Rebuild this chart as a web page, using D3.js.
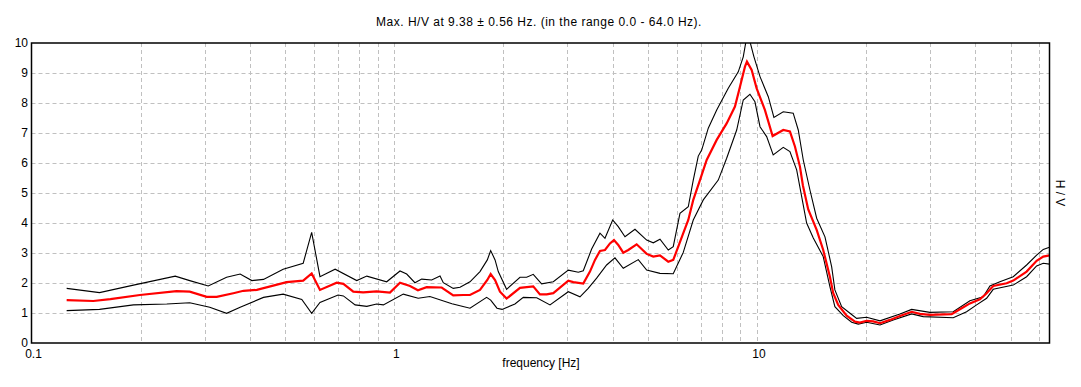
<!DOCTYPE html>
<html>
<head>
<meta charset="utf-8">
<script src="https://cdn.jsdelivr.net/npm/d3@7"></script>
<style>
body { margin: 0; background: #fff; }
svg { display: block; font-family: Arial, "Liberation Sans", sans-serif; }
</style>
</head>
<body>
<svg id="chart" width="1081" height="387"></svg>
<script>
// mean H/V curve
var freqMean = [0.125,0.148,0.165,0.199,0.251,0.273,0.304,0.324,0.360,0.384,0.418,0.505,0.561,0.592,0.624,0.694,0.724,0.771,0.821,0.894,0.973,1.037,1.105,1.162,1.228,1.351,1.454,1.550,1.617,1.723,1.805,1.844,1.896,1.956,2.040,2.221,2.416,2.521,2.631,2.744,3.018,3.115,3.319,3.463,3.575,3.690,3.809,3.932,4.033,4.144,4.278,4.416,4.657,4.963,5.176,5.401,5.693,5.875,6.065,6.261,6.463,6.671,6.961,7.264,7.741,8.246,8.692,8.973,9.262,9.38,9.663,9.975,10.51,11.04,11.81,12.32,12.72,13.13,13.38,13.84,14.60,15.22,15.88,16.22,16.74,17.66,18.62,19.21,20.05,20.91,21.82,23.25,24.77,26.68,28.12,29.96,34.39,36.64,38.62,41.15,42.94,44.78,48.75,50.84,55.35,58.98,61.51,64.0];
var hvMean = [1.43,1.40,1.46,1.60,1.73,1.71,1.54,1.54,1.66,1.74,1.77,2.03,2.08,2.32,1.77,2.01,1.97,1.71,1.69,1.72,1.68,2.01,1.90,1.76,1.86,1.85,1.59,1.60,1.60,1.77,2.10,2.30,2.10,1.71,1.48,1.84,1.89,1.62,1.62,1.66,2.08,2.03,1.98,2.38,2.77,3.07,3.10,3.32,3.43,3.27,3.01,3.10,3.29,2.97,2.88,2.92,2.71,2.77,3.21,3.66,4.10,4.77,5.43,6.10,6.77,7.32,7.88,8.54,9.21,9.38,9.10,8.49,7.77,6.90,7.10,7.05,6.55,5.88,5.25,4.45,3.77,3.10,2.21,1.66,1.27,0.91,0.71,0.68,0.74,0.72,0.66,0.77,0.90,1.04,0.97,0.94,0.96,1.16,1.32,1.46,1.66,1.90,1.99,2.08,2.38,2.74,2.88,2.92];

// mean + std
var freqUpper = [0.125,0.154,0.191,0.249,0.273,0.307,0.345,0.376,0.405,0.436,0.494,0.561,0.592,0.624,0.687,0.788,0.840,0.953,1.037,1.082,1.140,1.190,1.268,1.337,1.365,1.454,1.518,1.617,1.723,1.805,1.844,1.896,1.935,2.040,2.221,2.317,2.416,2.548,2.744,3.018,3.216,3.319,3.500,3.690,3.809,4.000,4.144,4.325,4.608,4.963,5.176,5.401,5.693,5.875,6.131,6.463,6.671,6.886,7.037,7.338,7.741,8.330,8.877,9.162,9.32,9.559,9.806,10.19,10.74,11.13,11.81,12.58,12.99,13.41,13.99,14.60,15.39,16.06,16.39,17.11,18.04,18.82,20.05,21.82,24.77,26.68,29.96,34.74,38.62,42.03,43.85,46.71,50.84,55.35,58.98,61.51,64.0];
var hvUpper = [1.82,1.68,1.93,2.23,2.08,1.90,2.19,2.30,2.08,2.12,2.46,2.66,3.69,2.21,2.46,2.08,2.23,2.04,2.40,2.30,2.01,2.13,2.10,2.23,2.01,1.82,1.86,2.04,2.38,2.77,3.08,2.77,2.38,1.79,2.19,2.19,2.29,1.97,2.04,2.43,2.36,2.41,3.13,3.66,3.49,4.10,3.88,3.54,3.79,3.43,3.34,3.46,3.10,3.21,4.32,4.54,5.43,6.23,6.43,7.16,7.77,8.49,9.04,9.54,10.05,10.05,9.54,8.88,8.21,7.52,7.71,7.66,7.10,6.10,5.10,4.16,3.54,2.54,1.77,1.21,0.99,0.82,0.86,0.74,0.97,1.12,1.02,1.04,1.41,1.54,1.90,2.04,2.21,2.60,2.93,3.12,3.19];

// mean - std
var freqLower = [0.125,0.154,0.191,0.236,0.273,0.310,0.345,0.376,0.436,0.494,0.556,0.592,0.624,0.700,0.724,0.780,0.840,0.894,0.933,1.059,1.164,1.254,1.442,1.617,1.797,1.844,1.919,1.982,2.151,2.268,2.470,2.687,3.018,3.250,3.425,3.613,3.849,4.058,4.278,4.706,4.963,5.401,5.875,6.261,6.671,7.109,7.818,8.246,8.788,9.162,9.559,9.867,10.19,10.63,11.08,11.81,12.32,12.86,13.70,14.29,15.22,15.88,16.39,17.29,18.23,19.01,20.05,21.82,23.74,26.68,28.71,34.74,37.81,40.30,42.94,44.78,50.84,55.35,58.98,61.51,64.0];
var hvLower = [1.08,1.12,1.27,1.30,1.34,1.19,0.99,1.19,1.52,1.63,1.45,0.99,1.35,1.60,1.57,1.27,1.22,1.30,1.27,1.63,1.49,1.55,1.31,1.16,1.52,1.43,1.16,1.12,1.30,1.52,1.51,1.27,1.71,1.54,1.82,2.16,2.60,2.84,2.49,2.78,2.43,2.32,2.31,3.02,4.10,4.77,5.43,6.16,7.10,8.10,8.29,8.04,7.21,6.88,6.27,6.52,6.38,5.77,4.00,3.50,2.88,1.88,1.21,0.91,0.69,0.63,0.69,0.60,0.77,0.97,0.88,0.84,1.04,1.27,1.49,1.79,1.93,2.21,2.57,2.66,2.63];

var xTickLabels = [0.1, 1, 10];
var yTicks = [0,1,2,3,4,5,6,7,8,9,10];
var xGrid = [0.1,0.2,0.3,0.4,0.5,0.6,0.7,0.8,0.9,1,2,3,4,5,6,7,8,9,10,20,30,40,50,60];

var titleText = "Max. H/V at 9.38 \u00b1 0.56 Hz. (in the range 0.0 - 64.0 Hz).";

var drawChart = function() {
	var svg = d3.select("#chart"),
	plot = { left: 31.5, right: 1049.5, top: 43, bottom: 343 };

	var x = d3.scaleLog()
		.domain([0.1, 64])
		.range([plot.left, plot.right]);

	var y = d3.scaleLinear()
		.domain([0, 10])
		.range([plot.bottom, plot.top]);

	svg.append("defs").append("clipPath")
		.attr("id", "plotClip")
		.append("rect")
		.attr("x", plot.left).attr("y", plot.top)
		.attr("width", plot.right - plot.left).attr("height", plot.bottom - plot.top);

	// grid
	var grid = svg.append("g")
		.attr("stroke", "#c0c0c0")
		.attr("stroke-width", 1)
		.attr("stroke-dasharray", "4,3");

	grid.selectAll(".hgrid")
		.data(yTicks.slice(1, -1))
		.enter().append("line")
		.attr("x1", plot.left).attr("x2", plot.right)
		.attr("y1", function (d) { return Math.round(y(d)) + 0.5; })
		.attr("y2", function (d) { return Math.round(y(d)) + 0.5; });

	grid.selectAll(".vgrid")
		.data(xGrid.slice(1))
		.enter().append("line")
		.attr("x1", function (d) { return Math.round(x(d)) + 0.5; })
		.attr("x2", function (d) { return Math.round(x(d)) + 0.5; })
		.attr("y1", plot.top).attr("y2", plot.bottom);

	// curves
	var line = d3.line()
		.x(function (d) { return x(d[0]); })
		.y(function (d) { return y(d[1]); });

	var curves = svg.append("g").attr("clip-path", "url(#plotClip)");

	curves.append("path")
		.datum(d3.zip(freqUpper, hvUpper))
		.attr("fill", "none")
		.attr("stroke", "#000")
		.attr("stroke-width", 1.1)
		.attr("d", line);

	curves.append("path")
		.datum(d3.zip(freqLower, hvLower))
		.attr("fill", "none")
		.attr("stroke", "#000")
		.attr("stroke-width", 1.1)
		.attr("d", line);

	curves.append("path")
		.datum(d3.zip(freqMean, hvMean))
		.attr("fill", "none")
		.attr("stroke", "#ff0000")
		.attr("stroke-width", 2.2)
		.attr("d", line);

	// frame
	svg.append("rect")
		.attr("x", plot.left).attr("y", plot.top)
		.attr("width", plot.right - plot.left).attr("height", plot.bottom - plot.top)
		.attr("fill", "none")
		.attr("stroke", "#000")
		.attr("stroke-width", 1.5);

	// tick labels
	svg.selectAll(".ylab")
		.data(yTicks)
		.enter().append("text")
		.attr("x", 28)
		.attr("y", function (d) { return y(d) + 3.5; })
		.attr("text-anchor", "end")
		.attr("font-size", "12px")
		.attr("fill", "#000")
		.text(function (d) { return d; });

	svg.selectAll(".xlab")
		.data(xTickLabels)
		.enter().append("text")
		.attr("x", function (d) { return x(d) + 2; })
		.attr("y", 358)
		.attr("text-anchor", "middle")
		.attr("font-size", "12px")
		.attr("fill", "#000")
		.text(function (d) { return d; });

	svg.append("text")
		.attr("x", 541)
		.attr("y", 367)
		.attr("text-anchor", "middle")
		.attr("font-size", "12px")
		.text("frequency [Hz]");

	svg.append("text")
		.attr("transform", "translate(1056,193) rotate(90)")
		.attr("text-anchor", "middle")
		.attr("font-size", "12px")
		.text("H / V");

	svg.append("text")
		.attr("x", 539)
		.attr("y", 26)
		.attr("text-anchor", "middle")
		.attr("font-size", "12px")
		.attr("letter-spacing", "0.5px")
		.text(titleText);
}

drawChart();
</script>
</body>
</html>
